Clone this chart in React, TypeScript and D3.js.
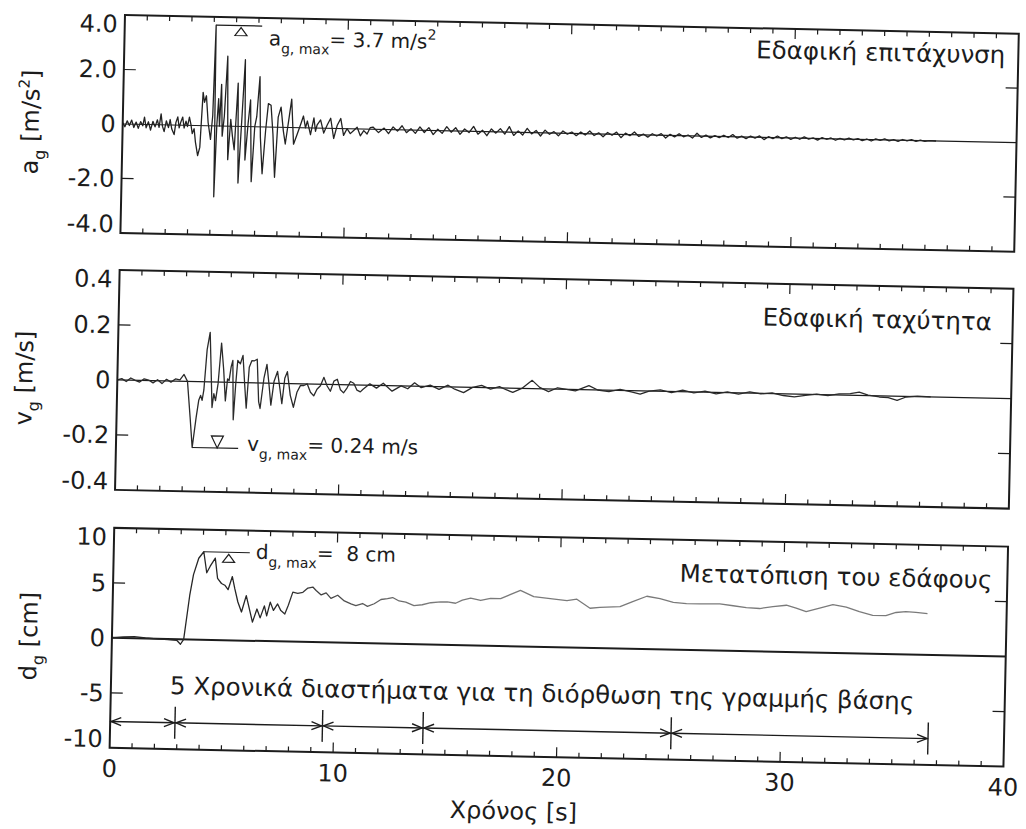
import React from 'react';
import * as d3 from 'd3';

// time axis
const timeTicks = [0, 10, 20, 30, 40];

// y ticks of the three panels
const accelTicks = [-4, -2, 0, 2, 4];
const accelTickLabels = ['-4.0', '-2.0', '0', '2.0', '4.0'];
const velTicks = [-0.4, -0.2, 0, 0.2, 0.4];
const velTickLabels = ['-0.4', '-0.2', '0', '0.2', '0.4'];
const dispTicks = [-10, -5, 0, 5, 10];
const dispTickLabels = ['-10', '-5', '0', '5', '10'];

const panelTitles = ['Εδαφική επιτάχυνση', 'Εδαφική ταχύτητα', 'Μετατόπιση του εδάφους'];

// ground acceleration [s, m/s2]
const accelData: [number, number][] = [
  [0.0, 0.05], [0.1, -0.1], [0.2, 0.12], [0.3, -0.05], [0.4, 0.15], [0.5, -0.12], [0.6, 0.08], [0.7, -0.15],
  [0.8, 0.1], [0.9, -0.05], [0.97, 0.27], [1.05, -0.12], [1.15, 0.1], [1.25, -0.2], [1.35, 0.12], [1.45, -0.08],
  [1.55, 0.18], [1.63, -0.1], [1.71, 0.4], [1.78, -0.05], [1.86, -0.25], [1.95, 0.15], [2.05, -0.1], [2.12, 0.2],
  [2.2, -0.15], [2.31, -0.35], [2.38, 0.1], [2.46, 0.3], [2.53, -0.1], [2.6, 0.12], [2.68, 0.3], [2.75, -0.1],
  [2.83, 0.15], [2.9, -0.05], [2.98, 0.3], [3.05, 0.05], [3.12, -0.3], [3.2, -0.12], [3.27, -0.61], [3.38, -1.1],
  [3.47, -0.8], [3.57, 1.22], [3.64, 0.86], [3.72, 1.1], [3.82, 0.12], [3.94, -0.5], [4.02, 0.37], [4.09, 3.7],
  [4.14, -2.6], [4.21, 0.0], [4.27, 1.0], [4.33, 0.0], [4.39, 1.53], [4.46, -0.37], [4.54, 0.37], [4.64, 2.57],
  [4.73, -1.23], [4.83, 0.25], [4.92, -0.37], [5.01, -0.86], [5.13, 1.59], [5.21, -2.08], [5.33, 0.37], [5.43, 2.45],
  [5.5, -1.23], [5.61, 0.12], [5.7, 0.98], [5.8, -2.02], [5.91, 0.0], [5.99, 0.37], [6.1, 1.84], [6.17, -0.37],
  [6.28, -1.72], [6.4, -0.12], [6.5, 0.86], [6.62, 0.8], [6.73, -0.25], [6.84, -1.84], [6.95, 0.37], [7.07, 0.74],
  [7.19, -0.12], [7.29, -0.61], [7.44, 0.37], [7.54, 1.04], [7.66, -0.61], [7.81, -0.25], [7.96, 0.12], [8.08, 0.43],
  [8.18, 0.0], [8.26, 0.25], [8.41, -0.25], [8.55, 0.37], [8.63, -0.12], [8.7, 0.12], [8.85, 0.3], [9.0, -0.18],
  [9.15, 0.12], [9.3, 0.37], [9.45, -0.37], [9.6, 0.12], [9.75, 0.37], [9.89, -0.25], [10.04, 0.0], [10.19, -0.18],
  [10.34, -0.06], [10.49, 0.06], [10.64, -0.25], [10.79, -0.06], [10.94, -0.18], [11.08, 0.06], [11.2, 0.08],
  [11.45, -0.12], [11.7, 0.05], [11.9, -0.15], [12.1, 0.1], [12.3, -0.05], [12.5, 0.15], [12.7, -0.1], [12.9, 0.05],
  [13.1, -0.12], [13.3, 0.12], [13.5, -0.08], [13.7, 0.1], [13.9, -0.15], [14.1, 0.05], [14.3, -0.1], [14.5, 0.15],
  [14.7, -0.05], [14.9, 0.12], [15.1, -0.12], [15.3, 0.08], [15.5, -0.05], [15.7, 0.18], [15.9, -0.1], [16.1, 0.05],
  [16.3, -0.15], [16.5, 0.1], [16.7, -0.05], [16.9, 0.12], [17.1, -0.08], [17.3, 0.2], [17.5, -0.12], [17.7, 0.05],
  [17.9, -0.1], [18.1, 0.15], [18.3, -0.05], [18.5, 0.08], [18.7, -0.12], [18.9, 0.1], [19.1, -0.05], [19.3, 0.05],
  [19.5, -0.1], [19.7, 0.08], [19.9, -0.03], [20.1, 0.05], [20.3, -0.08], [20.5, 0.06], [20.7, -0.05], [20.9, 0.1],
  [21.1, -0.06], [21.3, 0.04], [21.5, -0.1], [21.7, 0.06], [21.9, -0.04], [22.1, 0.08], [22.3, -0.12], [22.5, 0.05],
  [22.7, -0.04], [22.9, 0.1], [23.1, -0.06], [23.3, 0.03], [23.5, -0.08], [23.7, 0.05], [23.9, -0.03], [24.1, 0.06],
  [24.3, -0.1], [24.5, 0.04], [24.7, -0.05], [24.9, 0.07], [25.1, -0.04], [25.3, 0.03], [25.5, -0.08], [25.7, 0.1],
  [25.9, -0.05], [26.1, 0.04], [26.3, -0.06], [26.5, 0.03], [26.7, -0.04], [26.9, 0.05], [27.1, -0.03], [27.3, 0.08],
  [27.5, -0.05], [27.7, 0.03], [27.9, -0.06], [28.1, 0.04], [28.3, -0.03], [28.5, 0.05], [28.7, -0.08], [28.9, 0.03],
  [29.1, -0.04], [29.3, 0.06], [29.5, -0.03], [29.7, 0.04], [29.9, -0.05], [30.1, 0.03], [30.3, -0.04], [30.5, 0.05],
  [30.7, -0.03], [30.9, 0.02], [31.1, -0.06], [31.3, 0.04], [31.5, -0.02], [31.7, 0.03], [31.9, -0.05], [32.1, 0.02],
  [32.3, -0.03], [32.5, 0.04], [32.7, -0.02], [32.9, 0.03], [33.1, -0.04], [33.3, 0.02], [33.5, -0.05], [33.7, 0.03],
  [33.9, -0.02], [34.1, 0.04], [34.3, -0.03], [34.5, 0.02], [34.7, -0.04], [34.9, 0.03], [35.1, -0.02], [35.3, 0.03],
  [35.5, -0.03], [35.7, 0.02], [35.9, -0.02], [36.1, 0.01], [36.4, 0.0],
];

// ground velocity [s, m/s]
const velData: [number, number][] = [
  [0.0, 0.0], [0.2, 0.005], [0.4, -0.005], [0.6, 0.008], [0.8, 0.0], [1.0, -0.006], [1.2, 0.006], [1.4, 0.002],
  [1.6, -0.008], [1.8, 0.004], [2.0, -0.01], [2.2, 0.006], [2.4, -0.004], [2.6, 0.008], [2.8, 0.005], [2.98, 0.025],
  [3.14, 0.0], [3.29, -0.13], [3.41, -0.24], [3.56, -0.13], [3.66, -0.068], [3.74, -0.05], [3.81, -0.068], [3.88, -0.03],
  [3.99, 0.117], [4.11, 0.18], [4.18, 0.056], [4.26, -0.093], [4.33, -0.043], [4.41, -0.068], [4.51, -0.006], [4.63, 0.142],
  [4.75, 0.043], [4.85, -0.068], [4.93, 0.012], [5.0, 0.006], [5.08, 0.056], [5.15, 0.08], [5.22, -0.136], [5.3, -0.006],
  [5.37, 0.08], [5.49, 0.068], [5.6, 0.099], [5.7, -0.006], [5.79, -0.093], [5.89, 0.056], [6.0, 0.08], [6.12, 0.08],
  [6.24, 0.086], [6.34, -0.068], [6.41, -0.093], [6.56, 0.019], [6.68, 0.068], [6.79, -0.006], [6.89, -0.08], [7.01, 0.006],
  [7.16, 0.043], [7.28, -0.019], [7.38, -0.074], [7.49, 0.019], [7.6, 0.043], [7.75, -0.043], [7.9, -0.086], [8.05, -0.03],
  [8.2, -0.006], [8.35, -0.006], [8.5, 0.0], [8.65, -0.03], [8.8, -0.043], [8.94, -0.019], [9.09, -0.006], [9.24, 0.025],
  [9.39, -0.006], [9.54, -0.025], [9.69, 0.012], [9.84, 0.019], [9.99, -0.019], [10.13, -0.03], [10.28, -0.012], [10.43, 0.012],
  [10.58, 0.006], [10.73, -0.019], [10.88, -0.025], [11.0, -0.015], [11.3, 0.005], [11.6, -0.01], [11.9, 0.008], [12.3, -0.02],
  [12.7, 0.0], [13.0, -0.01], [13.3, 0.012], [13.6, -0.005], [14.0, 0.005], [14.4, -0.01], [14.8, 0.006], [15.1, -0.008],
  [15.5, -0.02], [15.9, 0.0], [16.3, 0.008], [16.7, -0.005], [17.1, 0.005], [17.4, -0.006], [17.7, -0.015], [18.1, 0.0],
  [18.56, 0.03], [18.9, 0.005], [19.3, -0.01], [19.7, 0.005], [20.1, 0.0], [20.5, -0.005], [21.1, 0.015], [21.5, 0.0],
  [22.0, -0.005], [22.5, 0.004], [23.0, -0.004], [23.4, -0.012], [23.8, 0.0], [24.3, 0.005], [24.8, -0.004], [25.3, 0.006],
  [25.8, -0.003], [26.3, 0.004], [26.8, -0.005], [27.3, 0.003], [27.8, -0.004], [28.3, 0.005], [28.8, -0.002], [29.3, 0.003],
  [29.8, -0.006], [30.3, -0.01], [30.8, -0.004], [31.3, 0.002], [31.8, -0.003], [32.3, 0.004], [32.8, 0.006], [33.2, 0.012],
  [33.6, 0.002], [34.1, -0.004], [34.5, -0.006], [34.9, -0.015], [35.3, -0.002], [35.8, 0.002], [36.4, 0.0],
];

// ground displacement [s, cm]
const dispData: [number, number][] = [
  [0.0, 0.0], [0.5, 0.1], [1.0, 0.15], [1.5, 0.05], [2.0, 0.0], [2.5, -0.05], [2.9, -0.1], [3.07, -0.45],
  [3.21, 0.0], [3.44, 4.0], [3.59, 5.9], [3.81, 7.4], [4.03, 8.0], [4.18, 6.1], [4.33, 6.7], [4.55, 7.45],
  [4.67, 5.6], [4.85, 5.15], [5.0, 5.0], [5.15, 4.6], [5.33, 5.8], [5.45, 4.7], [5.6, 3.5], [5.77, 2.6],
  [5.97, 4.1], [6.12, 2.9], [6.27, 1.7], [6.46, 2.9], [6.61, 2.1], [6.79, 3.2], [6.9, 2.3], [7.05, 3.55],
  [7.2, 2.8], [7.38, 3.4], [7.53, 2.8], [7.71, 2.5], [7.86, 3.3], [8.05, 4.5], [8.27, 4.4], [8.5, 4.5],
  [8.72, 4.9], [8.94, 5.0], [9.09, 4.7], [9.32, 4.3], [9.54, 4.5], [9.76, 4.0], [10.06, 4.3], [10.36, 3.8],
  [10.66, 3.55], [10.88, 3.4], [11.18, 3.6], [11.4, 3.35], [11.7, 3.6], [12.0, 4.0], [12.29, 4.1], [12.52, 4.2],
  [12.81, 3.9], [13.11, 3.8], [13.48, 3.5], [13.85, 3.6], [14.23, 3.8], [14.67, 3.9], [14.97, 3.9], [15.34, 3.8],
  [15.64, 4.1], [16.01, 4.3], [16.46, 4.1], [16.9, 4.3], [17.35, 4.3], [18.23, 5.1], [18.83, 4.55], [19.57, 4.4],
  [20.32, 4.25], [20.76, 4.4], [21.36, 3.6], [21.8, 3.7], [22.7, 3.8], [23.29, 4.3], [23.89, 4.8], [24.48, 4.6],
  [25.08, 4.3], [25.67, 4.2], [26.27, 4.2], [27.16, 4.25], [27.76, 4.1], [28.35, 3.95], [28.95, 3.9], [29.54, 4.1],
  [30.14, 4.25], [30.58, 4.0], [31.03, 3.7], [31.63, 4.05], [32.22, 4.4], [32.82, 4.2], [33.41, 3.8], [34.01, 3.5],
  [34.6, 3.5], [35.05, 3.8], [35.49, 3.9], [35.94, 3.85], [36.46, 3.75],
];

// peak annotations
const peakTimes = [4.09, 3.41, 4.03];
const peakValues = [3.7, -0.24, 8];
const peakSymbols = ['a', 'v', 'd'];
const peakTexts = ['= 3.7 m/s', '= 0.24 m/s', '=  8 cm'];

// baseline-correction intervals [s]
const intervalBounds = [0, 2.9, 9.5, 14.0, 25.1, 36.6];
const intervalLevel = -7.6;
const intervalText = '5 Χρονικά διαστήματα για τη διόρθωση της γραμμής βάσης';

const FONT = "'DejaVu Sans', 'Liberation Sans', sans-serif";
const INK = '#1c1c1c';

const App: React.FC = () => {
  const W = 1026;
  const H = 829;
  const x = d3.scaleLinear().domain([0, 40]).range([125, 1019]);

  const panels = [
    { data: accelData, domain: [-4, 4], top: 15, bottom: 233, ticks: accelTicks, labels: accelTickLabels,
      sym: 'a', unit: ['[m/s', '2', ']'], labelX: 41, titleX: 1006, titleY: 45, stroke: '#222', zeroW: 1.2 },
    { data: velData, domain: [-0.4, 0.4], top: 270, bottom: 490, ticks: velTicks, labels: velTickLabels,
      sym: 'v', unit: ['[m/s]', '', ''], labelX: 40, titleX: 998, titleY: 312, stroke: '#2a2a2a', zeroW: 1.2 },
    { data: dispData, domain: [-10, 10], top: 528, bottom: 748, ticks: dispTicks, labels: dispTickLabels,
      sym: 'd', unit: ['[cm]', '', ''], labelX: 50, titleX: 1004, titleY: 570, stroke: 'url(#dispFade)', zeroW: 2 },
  ];

  // per-annotation offsets in px
  const annLayout = [
    { tx: 53, ty: 19, up: true },
    { tx: 55, ty: 2, up: false },
    { tx: 52, ty: 6, up: true },
  ];

  const minorTicks = d3.range(1, 40);

  return (
    <svg width={W} height={H} style={{ position: 'absolute', left: 0, top: 0, background: '#fff' }}
      fontFamily={FONT}>
      <defs>
        <linearGradient id="dispFade" gradientUnits="userSpaceOnUse" x1={x(7)} x2={x(14)} y1={0} y2={0}>
          <stop offset="0" stopColor="#262626" />
          <stop offset="1" stopColor="#7a7a7a" />
        </linearGradient>
      </defs>
      <rect width={W} height={H} fill="#fff" />
      <g transform="rotate(1.2 125 14)">
        {panels.map((p, i) => {
          const y = d3.scaleLinear().domain(p.domain).range([p.bottom, p.top]);
          const line = d3.line<[number, number]>().x(d => x(d[0])).y(d => y(d[1]));
          const px = x(peakTimes[i]);
          const py = y(peakValues[i]);
          const al = annLayout[i];
          const mid = (p.top + p.bottom) / 2;
          return (
            <g key={i}>
              {/* zero line */}
              <line x1={x(0)} x2={x(40)} y1={y(0)} y2={y(0)} stroke={INK} strokeWidth={p.zeroW} />
              {/* record */}
              <path d={line(p.data) ?? ''} fill="none" stroke={p.stroke} strokeWidth={1.3}
                strokeLinejoin="round" />
              {/* frame */}
              <rect x={x(0)} y={p.top} width={x(40) - x(0)} height={p.bottom - p.top}
                fill="none" stroke={INK} strokeWidth={2} />
              {/* time ticks top and bottom, inward */}
              {minorTicks.map(t => {
                const len = t % 10 === 0 ? 10 : 5;
                return (
                  <g key={t} stroke={INK} strokeWidth={1.2}>
                    <line x1={x(t)} x2={x(t)} y1={p.bottom} y2={p.bottom - len} />
                    <line x1={x(t)} x2={x(t)} y1={p.top} y2={p.top + len} />
                  </g>
                );
              })}
              {/* value ticks left and right, inward */}
              {p.ticks.filter((v, k) => k > 0 && k < p.ticks.length - 1 && v !== 0).map(v => (
                <g key={v} stroke={INK} strokeWidth={1.2}>
                  <line x1={x(0)} x2={x(0) + 12} y1={y(v)} y2={y(v)} />
                  <line x1={x(40)} x2={x(40) - 12} y1={y(v)} y2={y(v)} />
                </g>
              ))}
              {/* tick labels */}
              {p.ticks.map((v, k) => {
                const shift = k === 0 ? -9 : k === p.ticks.length - 1 ? 9 : 0;
                return (
                  <text key={v} x={x(0) - 7} y={y(v) + shift + 8.5} textAnchor="end" fontSize={24} fill={INK}>
                    {p.labels[k]}
                  </text>
                );
              })}
              {/* y axis label */}
              <text transform={`translate(${p.labelX},${mid}) rotate(-90)`} textAnchor="middle" fontSize={24} fill={INK}>
                {p.sym}
                <tspan fontSize={16} dy={7}>g</tspan>
                <tspan fontSize={24} dy={-7}>{' ' + p.unit[0]}</tspan>
                {p.unit[1] && <tspan fontSize={15} dy={-10}>{p.unit[1]}</tspan>}
                {p.unit[2] && <tspan fontSize={24} dy={10}>{p.unit[2]}</tspan>}
              </text>
              {/* panel title */}
              <text x={p.titleX} y={p.titleY} textAnchor="end" fontSize={24.5} fill={INK}>{panelTitles[i]}</text>
              {/* peak marker */}
              <g stroke={INK} strokeWidth={1.2} fill="none">
                <line x1={px} x2={px + 46} y1={py} y2={py} />
                {al.up ? (
                  <path d={`M${px + 25},${py + 2} L${px + 31},${py + 10} L${px + 19},${py + 10} Z`} />
                ) : (
                  <path d={`M${px + 25},${py} L${px + 31},${py - 12} L${px + 19},${py - 12} Z`} />
                )}
              </g>
              <text x={px + al.tx} y={py + al.ty} fontSize={20} fill={INK}>
                {peakSymbols[i]}
                <tspan fontSize={14} dy={8}>g, max</tspan>
                <tspan fontSize={20} dy={-8} xmlSpace="preserve" style={{ whiteSpace: 'pre' }}>{peakTexts[i]}</tspan>
                {i === 0 && <tspan fontSize={14} dy={-9}>2</tspan>}
              </text>
            </g>
          );
        })}

        {/* baseline correction intervals in the displacement panel */}
        {(() => {
          const y = d3.scaleLinear().domain([-10, 10]).range([748, 528]);
          const ly = y(intervalLevel);
          const segs = d3.pairs(intervalBounds);
          return (
            <g stroke={INK} strokeWidth={1.4} fill="none">
              {segs.map(([a, b], k) => (
                <g key={k}>
                  <line x1={x(a)} x2={x(b)} y1={ly} y2={ly} />
                  <path d={`M${x(a) + 11},${ly - 4} L${x(a) + 1},${ly} L${x(a) + 11},${ly + 4}`} />
                  <path d={`M${x(b) - 11},${ly - 4} L${x(b) - 1},${ly} L${x(b) - 11},${ly + 4}`} />
                </g>
              ))}
              {intervalBounds.slice(1).map(t => (
                <line key={t} x1={x(t)} x2={x(t)} y1={ly - 16} y2={ly + 16} />
              ))}
            </g>
          );
        })()}
        <text x={184} y={693} fontSize={24.5} fill={INK}>{intervalText}</text>

        {/* time axis labels */}
        {timeTicks.map(t => (
          <text key={t} x={x(t)} y={777} textAnchor="middle" fontSize={24} fill={INK}>{t}</text>
        ))}
        <text x={530} y={811} textAnchor="middle" fontSize={24} fill={INK}>Χρόνος [s]</text>
      </g>
    </svg>
  );
};

export default App;
